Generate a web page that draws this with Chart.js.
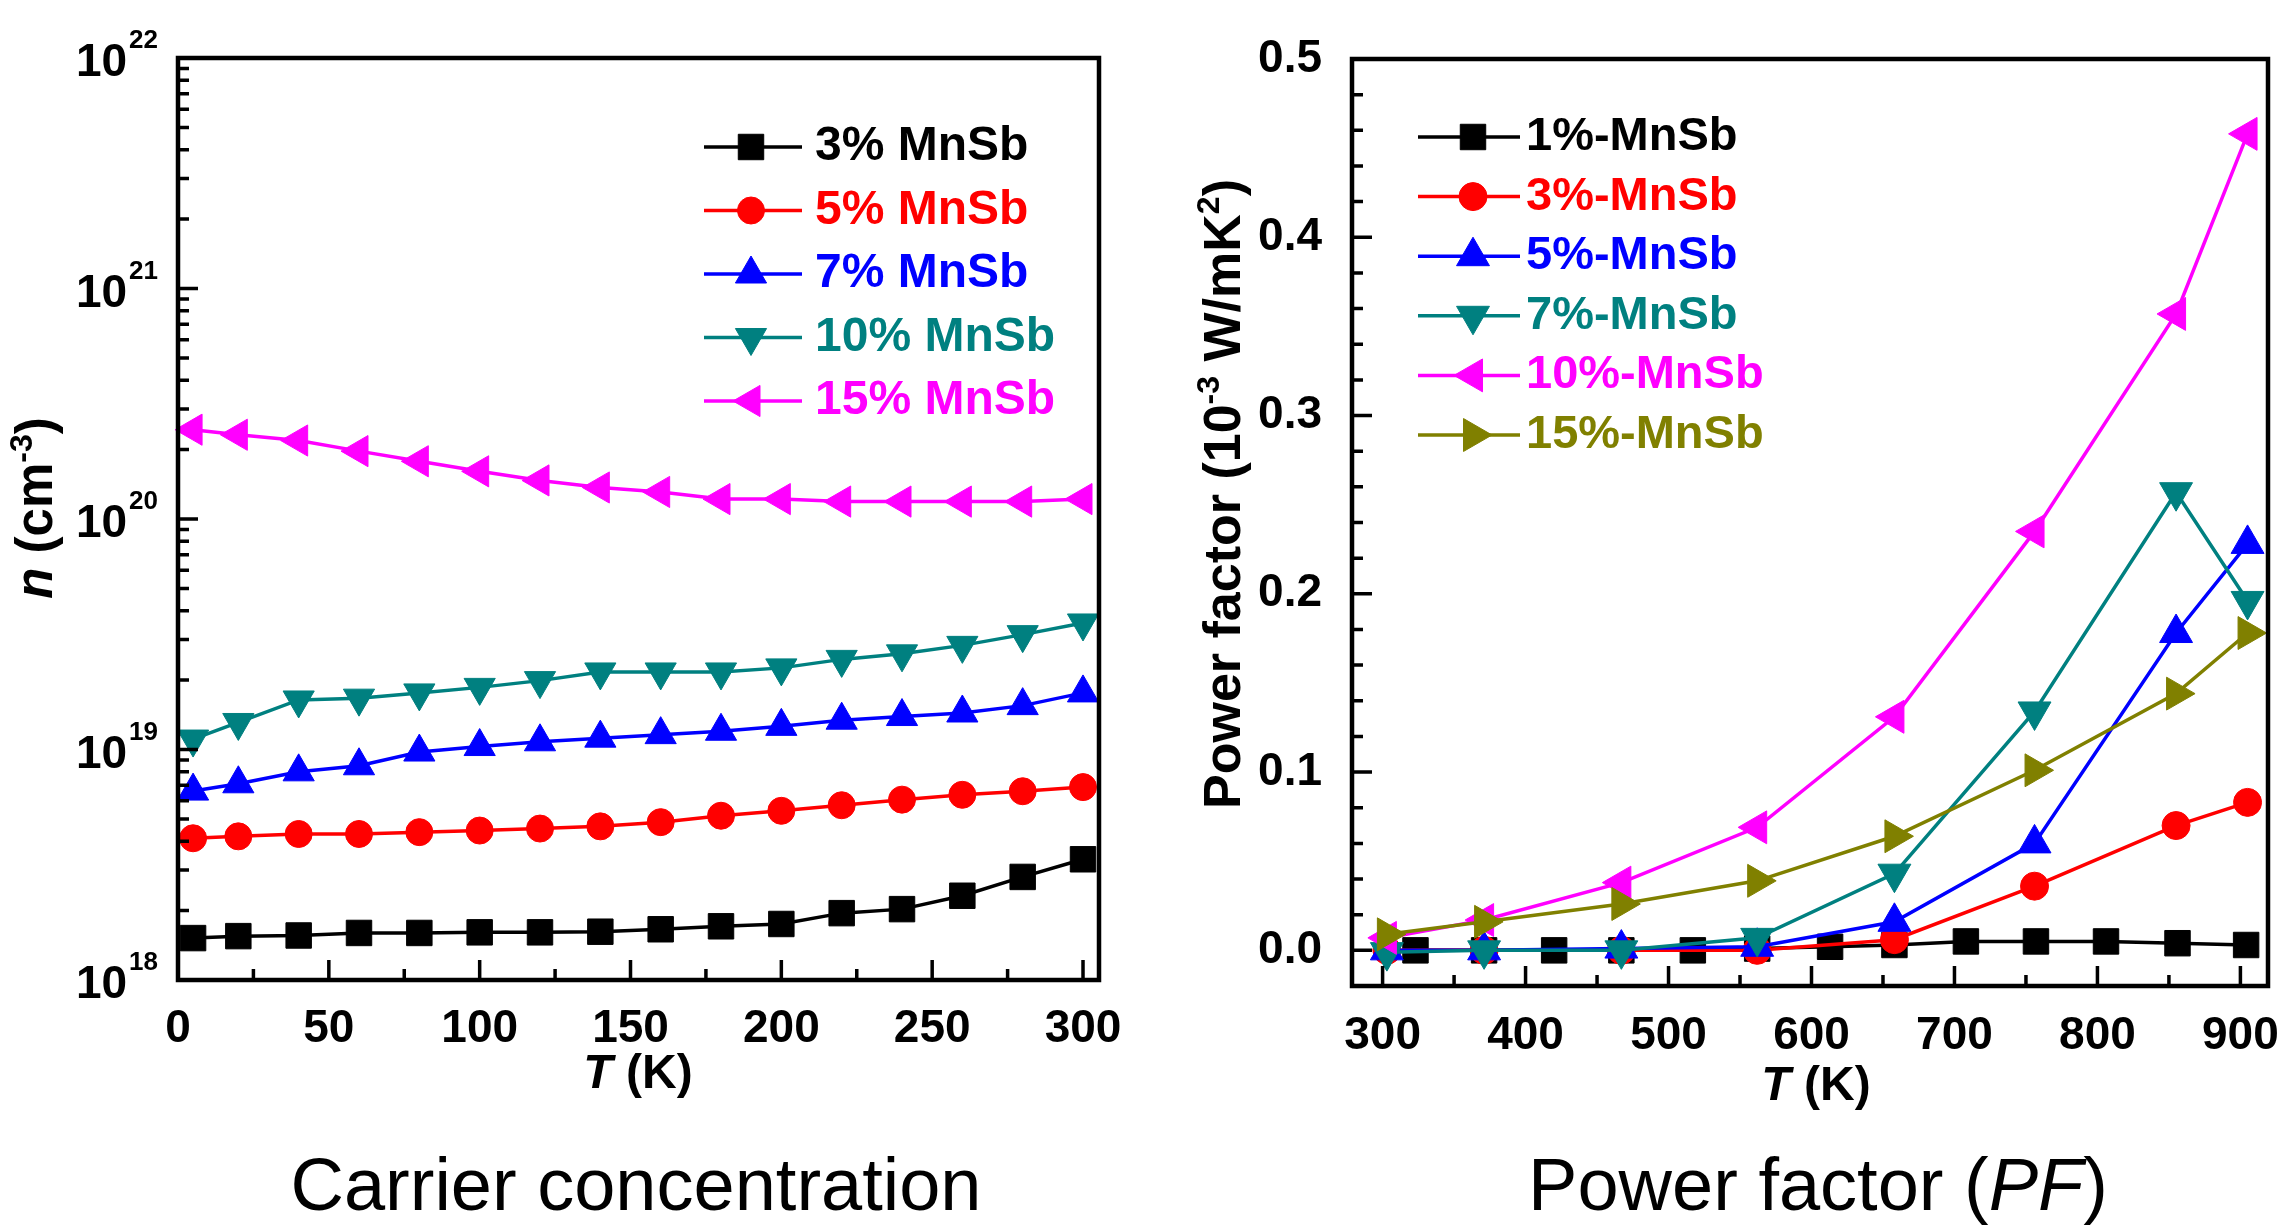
<!DOCTYPE html>
<html>
<head>
<meta charset="utf-8">
<script src="https://cdn.jsdelivr.net/npm/chart.js@4.4.0/dist/chart.umd.min.js"></script>
<style>
  body { margin: 0; background: #fff; width: 2288px; height: 1227px; position: relative; overflow: hidden;
         font-family: "Liberation Sans", Arial, Helvetica, sans-serif; }
  canvas { position: absolute; top: 0; }
  #cvN { left: 0; }
  #cvPF { left: 1144px; }
  .caption { position: absolute; top: 1148px; font-size: 74px; line-height: 74px; color: #000;
             white-space: nowrap; transform: translateX(-50%); }
</style>
</head>
<body>
<canvas id="cvN" width="1144" height="1140"></canvas>
<canvas id="cvPF" width="1144" height="1140"></canvas>
<div class="caption" style="left:636px">Carrier concentration</div>
<div class="caption" style="left:1818px">Power factor (<i>PF</i>)</div>
<script>
const FONT = '"Liberation Sans", Arial, Helvetica, sans-serif';

// carrier concentration n (cm^-3) against T (K)
const tempN = [5, 20, 40, 60, 80, 100, 120, 140, 160, 180, 200, 220, 240, 260, 280, 300];
const nMnSb3 = [1.52e18, 1.55e18, 1.56e18, 1.6e18, 1.6e18, 1.61e18, 1.61e18, 1.62e18, 1.66e18, 1.71e18, 1.75e18, 1.95e18, 2.03e18, 2.32e18, 2.8e18, 3.34e18];
const nMnSb5 = [4.12e18, 4.2e18, 4.3e18, 4.3e18, 4.38e18, 4.45e18, 4.54e18, 4.64e18, 4.84e18, 5.16e18, 5.42e18, 5.73e18, 6.06e18, 6.36e18, 6.59e18, 6.87e18];
const nMnSb7 = [6.6e18, 7.1e18, 8.0e18, 8.5e18, 9.75e18, 1.03e19, 1.08e19, 1.12e19, 1.16e19, 1.2e19, 1.26e19, 1.34e19, 1.39e19, 1.44e19, 1.55e19, 1.76e19];
const nMnSb10 = [1.11e19, 1.31e19, 1.64e19, 1.67e19, 1.76e19, 1.86e19, 1.99e19, 2.17e19, 2.17e19, 2.17e19, 2.26e19, 2.46e19, 2.6e19, 2.83e19, 3.15e19, 3.54e19];
const nMnSb15 = [2.44e20, 2.32e20, 2.19e20, 1.97e20, 1.78e20, 1.61e20, 1.47e20, 1.37e20, 1.31e20, 1.22e20, 1.22e20, 1.19e20, 1.19e20, 1.19e20, 1.19e20, 1.22e20];
const nLabels = ['3% MnSb', '5% MnSb', '7% MnSb', '10% MnSb', '15% MnSb'];
const nTicksX = [0, 50, 100, 150, 200, 250, 300];
const nDecades = [18, 19, 20, 21, 22];

// power factor (10^-3 W/mK^2) against T (K)
const tempPF1 = [323, 371, 420, 467, 517, 562, 613, 658, 708, 757, 806, 856, 904];
const tempPF = [303, 371, 467, 562, 658, 756, 855, 905];
const pf1 = [0, 0, 0, 0, 0, 0.001, 0.002, 0.003, 0.005, 0.005, 0.005, 0.004, 0.003];
const pf3 = [0, 0, 0, 0, 0.006, 0.036, 0.070, 0.083];
const pf5 = [0, 0, 0.001, 0.002, 0.016, 0.060, 0.178, 0.228];
const pf7 = [-0.001, 0, 0, 0.007, 0.043, 0.134, 0.257, 0.196];
const pf10 = [0.007, 0.017, 0.038, 0.069, 0.131, 0.235, 0.357, 0.458];
const pf15 = [0.009, 0.016, 0.026, 0.039, 0.064, 0.101, 0.144, 0.178];
const pfLabels = ['1%-MnSb', '3%-MnSb', '5%-MnSb', '7%-MnSb', '10%-MnSb', '15%-MnSb'];
const pfTicksX = [300, 400, 500, 600, 700, 800, 900];
const pfTicksY = [0, 0.1, 0.2, 0.3, 0.4, 0.5];

const BLACK = '#000000', RED = '#ff0000', BLUE = '#0000ff', TEAL = '#008080', MAGENTA = '#ff00ff', OLIVE = '#808000';

function series(label, xs, ys, color, style, rot, r, idx) {
    return {
        label: label,
        data: xs.map((x, i) => ({ x: x, y: ys[i] })),
        borderColor: color, backgroundColor: color,
        pointBackgroundColor: color, pointBorderColor: color,
        pointStyle: style, pointRotation: rot, pointRadius: r, pointHoverRadius: r,
        pointBorderWidth: 1, borderWidth: 3.5, tension: 0, clip: false,
        order: 10 - idx // later series on top
    };
}

// text with italic / superscript pieces, centred on (x, y)
function richText(ctx, runs, x, y, size, angle) {
    ctx.save();
    ctx.translate(x, y);
    ctx.rotate(angle || 0);
    ctx.textBaseline = 'middle';
    ctx.textAlign = 'left';
    ctx.fillStyle = '#000';
    const fontOf = r => (r.it ? 'italic ' : '') + 'bold ' + Math.round(r.sup ? size * 0.62 : size) + 'px ' + FONT;
    const widths = runs.map(r => { ctx.font = fontOf(r); return ctx.measureText(r.t).width; });
    let cx = -widths.reduce((a, b) => a + b, 0) / 2;
    runs.forEach((r, i) => {
        ctx.font = fontOf(r);
        ctx.fillText(r.t, cx, r.sup ? -size * 0.3 : 0);
        cx += widths[i];
    });
    ctx.restore();
}

// frame, inward ticks, titles and in-plot legend
function decorPlugin(d) {
    return {
        id: 'decor',
        afterDraw(chart) {
            const ctx = chart.ctx, a = chart.chartArea;
            const sx = chart.scales.x, sy = chart.scales.y;
            ctx.save();
            ctx.strokeStyle = '#000';
            ctx.lineWidth = 3.5;
            ctx.beginPath();
            const xt = (vals, len) => vals.forEach(v => {
                const p = sx.getPixelForValue(v);
                ctx.moveTo(p, a.bottom); ctx.lineTo(p, a.bottom - len);
            });
            const yt = (vals, len) => vals.forEach(v => {
                const p = sy.getPixelForValue(v);
                ctx.moveTo(a.left, p); ctx.lineTo(a.left + len, p);
            });
            xt(d.xMajor, 20); xt(d.xMinor, 11);
            yt(d.yMajor, 20); yt(d.yMinor, 11);
            ctx.stroke();
            ctx.lineWidth = 4.5;
            ctx.strokeRect(a.left, a.top, a.right - a.left, a.bottom - a.top);

            // 10^n labels on the log axis
            if (d.logLabels) {
                ctx.fillStyle = '#000';
                ctx.textAlign = 'right';
                ctx.textBaseline = 'alphabetic';
                d.logLabels.forEach(e => {
                    const p = sy.getPixelForValue(Math.pow(10, e));
                    ctx.font = 'bold 26px ' + FONT;
                    const w = ctx.measureText(String(e)).width;
                    ctx.fillText(String(e), 158, p - 10);
                    ctx.font = 'bold 46px ' + FONT;
                    ctx.fillText('10', 158 - w - 2, p + 18);
                });
            }

            richText(ctx, d.xTitle.runs, d.xTitle.x, d.xTitle.y, d.xTitle.size, 0);
            richText(ctx, d.yTitle.runs, d.yTitle.x, d.yTitle.y, d.yTitle.size, -Math.PI / 2);

            const L = d.legend;
            chart.data.datasets.forEach((ds, i) => {
                const y = L.y0 + i * L.dy;
                ctx.strokeStyle = ds.borderColor;
                ctx.fillStyle = ds.borderColor;
                ctx.lineWidth = ds.borderWidth;
                ctx.beginPath();
                ctx.moveTo(L.x1, y); ctx.lineTo(L.x2, y);
                ctx.stroke();
                ctx.lineWidth = 1;
                Chart.helpers.drawPoint(ctx, {
                    pointStyle: ds.pointStyle, rotation: ds.pointRotation,
                    radius: ds.pointRadius, borderWidth: 1
                }, L.xm, y);
                ctx.font = 'bold ' + L.size + 'px ' + FONT;
                ctx.textAlign = 'left';
                ctx.textBaseline = 'middle';
                ctx.fillText(L.labels[i], L.xt, y);
            });
            ctx.restore();
        }
    };
}

const tickFont = { family: FONT, size: 46, weight: 'bold' };

// ----- left: carrier concentration -----
const nMinorY = [];
for (let e = 18; e < 22; e++) for (let m = 2; m <= 9; m++) nMinorY.push(m * Math.pow(10, e));

new Chart(document.getElementById('cvN'), {
    type: 'line',
    data: {
        datasets: [
            series(nLabels[0], tempN, nMnSb3, BLACK, 'rect', 0, 18, 0),
            series(nLabels[1], tempN, nMnSb5, RED, 'circle', 0, 13.5, 1),
            series(nLabels[2], tempN, nMnSb7, BLUE, 'triangle', 0, 18, 2),
            series(nLabels[3], tempN, nMnSb10, TEAL, 'triangle', 180, 18, 3),
            series(nLabels[4], tempN, nMnSb15, MAGENTA, 'triangle', 270, 18, 4)
        ]
    },
    options: {
        responsive: false, animation: false, devicePixelRatio: 1,
        layout: { padding: { top: 58, right: 45, left: 0, bottom: 0 } },
        plugins: { legend: { display: false }, tooltip: { enabled: false } },
        scales: {
            x: {
                type: 'linear', min: 0, max: 305.3,
                grid: { display: false }, border: { display: false },
                afterBuildTicks: s => { s.ticks = nTicksX.map(v => ({ value: v })); },
                ticks: { font: tickFont, color: '#000', padding: 14, maxRotation: 0, autoSkip: false },
                afterFit: s => { s.height = 160; s.paddingLeft = 0; s.paddingRight = 0; }
            },
            y: {
                type: 'logarithmic', min: 1e18, max: 1e22,
                grid: { display: false }, border: { display: false },
                ticks: { display: false },
                afterFit: s => { s.width = 178; s.paddingTop = 0; s.paddingBottom = 0; }
            }
        }
    },
    plugins: [decorPlugin({
        xMajor: nTicksX, xMinor: [25, 75, 125, 175, 225, 275],
        yMajor: nDecades.map(e => Math.pow(10, e)), yMinor: nMinorY,
        logLabels: nDecades,
        xTitle: { x: 638, y: 1075, size: 48, runs: [{ t: 'T', it: true }, { t: ' (K)' }] },
        yTitle: { x: 38, y: 508, size: 51, runs: [{ t: 'n', it: true }, { t: ' (cm' }, { t: '-3', sup: true }, { t: ')' }] },
        legend: { x1: 704, x2: 802, xm: 751, xt: 815, y0: 147, dy: 63.5, size: 48, labels: nLabels }
    })]
});

// ----- right: power factor -----
const pfMinorY = [];
for (let k = 1; k <= 24; k++) if (k % 5 !== 0) pfMinorY.push(k * 0.02);

new Chart(document.getElementById('cvPF'), {
    type: 'line',
    data: {
        datasets: [
            series(pfLabels[0], tempPF1, pf1, BLACK, 'rect', 0, 18, 0),
            series(pfLabels[1], tempPF, pf3, RED, 'circle', 0, 14, 1),
            series(pfLabels[2], tempPF, pf5, BLUE, 'triangle', 0, 19, 2),
            series(pfLabels[3], tempPF, pf7, TEAL, 'triangle', 180, 19, 3),
            series(pfLabels[4], tempPF, pf10, MAGENTA, 'triangle', 270, 19, 4),
            series(pfLabels[5], tempPF, pf15, OLIVE, 'triangle', 90, 19, 5)
        ]
    },
    options: {
        responsive: false, animation: false, devicePixelRatio: 1,
        layout: { padding: { top: 59, right: 8, left: 0, bottom: 0 } },
        plugins: { legend: { display: false }, tooltip: { enabled: false } },
        scales: {
            x: {
                type: 'linear', min: 278.6, max: 919.3,
                grid: { display: false }, border: { display: false },
                afterBuildTicks: s => { s.ticks = pfTicksX.map(v => ({ value: v })); },
                ticks: { font: tickFont, color: '#000', padding: 15, maxRotation: 0, autoSkip: false },
                afterFit: s => { s.height = 154; s.paddingLeft = 0; s.paddingRight = 0; }
            },
            y: {
                type: 'linear', min: -0.02, max: 0.5,
                grid: { display: false }, border: { display: false },
                afterBuildTicks: s => { s.ticks = pfTicksY.map(v => ({ value: v })); },
                ticks: { font: tickFont, color: '#000', padding: 22, callback: v => v.toFixed(1) },
                afterFit: s => { s.width = 208; s.paddingTop = 0; s.paddingBottom = 0; }
            }
        }
    },
    plugins: [decorPlugin({
        xMajor: pfTicksX, xMinor: [350, 450, 550, 650, 750, 850],
        yMajor: pfTicksY, yMinor: pfMinorY,
        xTitle: { x: 672, y: 1087, size: 48, runs: [{ t: 'T', it: true }, { t: ' (K)' }] },
        yTitle: { x: 82, y: 494, size: 52, runs: [{ t: 'Power factor (10' }, { t: '-3', sup: true }, { t: ' W/mK' }, { t: '2', sup: true }, { t: ')' }] },
        legend: { x1: 274, x2: 376, xm: 329, xt: 382, y0: 137, dy: 59.6, size: 47, labels: pfLabels }
    })]
});
</script>
</body>
</html>
